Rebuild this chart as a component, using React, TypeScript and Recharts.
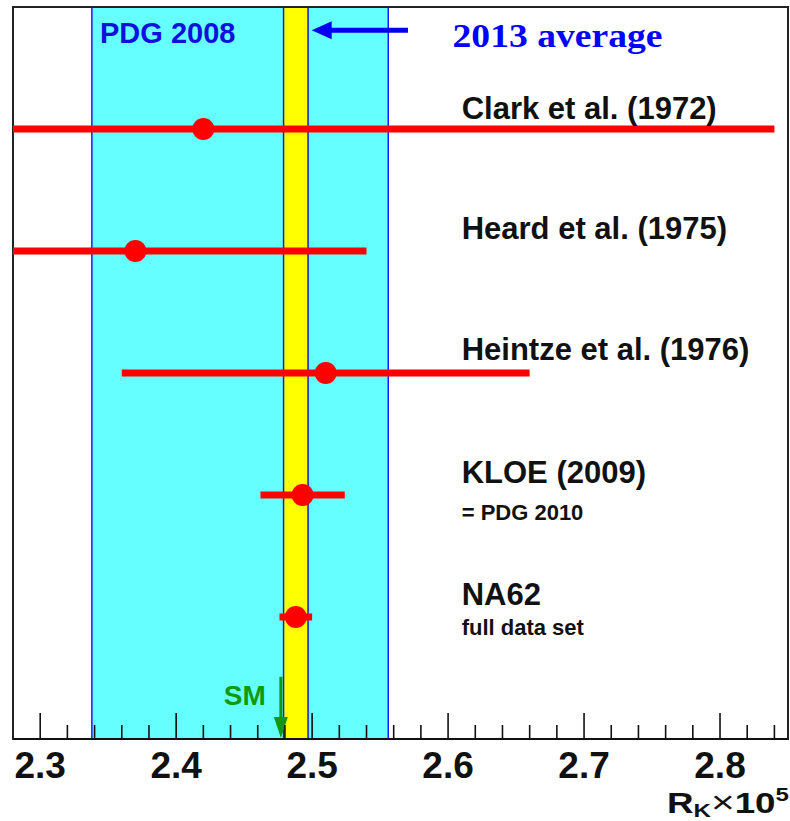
import React from "react";
import {
  ComposedChart,
  Scatter,
  ErrorBar,
  XAxis,
  YAxis,
  ReferenceArea,
  ReferenceDot,
  ReferenceLine,
} from "recharts";

// ---------- data ----------
const experiments = [
  "Clark et al. (1972)",
  "Heard et al. (1975)",
  "Heintze et al. (1976)",
  "KLOE (2009)",
  "NA62",
];
const subLabels = ["", "", "", "= PDG 2010", "full data set"];
const rkValues = [2.42, 2.37, 2.51, 2.493, 2.488];
const rkErrors = [0.42, 0.17, 0.15, 0.031, 0.012];
const rowPositions = [5, 4, 3, 2, 1];

const pdg2008Band = [2.338, 2.556];
const average2013Band = [2.479, 2.497];
const smValue = 2.477;

const xDomain = [2.28, 2.85];
const yDomain = [0, 6];
const tickValues = [
  2.3, 2.32, 2.34, 2.36, 2.38, 2.4, 2.42, 2.44, 2.46, 2.48, 2.5, 2.52, 2.54,
  2.56, 2.58, 2.6, 2.62, 2.64, 2.66, 2.68, 2.7, 2.72, 2.74, 2.76, 2.78, 2.8,
  2.82, 2.84,
];
const majorTickLabels = ["2.3", "2.4", "2.5", "2.6", "2.7", "2.8"];

// ---------- layout constants (annotation placement) ----------
const labelX = 2.61;
const labelDy = [-10, -12, -13, -12, -12];
const subLabelDy = [0, 0, 0, 25, 18];

const SANS = "'Liberation Sans', Arial, sans-serif";
const SERIF = "'Liberation Serif', 'Times New Roman', serif";

// error bars are clipped at the frame (the plot window), as in the original
const points = experiments.map((name, i) => ({
  name,
  x: rkValues[i],
  y: rowPositions[i],
  err: [
    Math.min(rkErrors[i], rkValues[i] - xDomain[0]),
    Math.min(rkErrors[i], xDomain[1] - rkValues[i]),
  ],
}));

const AxisTick = (props: any) => {
  const { x, y, payload } = props;
  const v = payload.value as number;
  const label = majorTickLabels.find((t) => Math.abs(parseFloat(t) - v) < 1e-6);
  const len = label ? 26 : 14;
  return (
    <g>
      <line x1={x} x2={x} y1={y} y2={y - len} stroke="#111" strokeWidth={1.6} />
      {label && (
        <text
          x={x}
          y={y + 39}
          textAnchor="middle"
          fontFamily={SANS}
          fontWeight="bold"
          fontSize={37}
          fill="#111"
        >
          {label}
        </text>
      )}
    </g>
  );
};

const textShape =
  (
    content: string,
    opts: {
      dx?: number;
      dy?: number;
      size: number;
      color?: string;
      family?: string;
      anchor?: string;
      length?: number;
    }
  ) =>
  (p: any) =>
    (
      <text
        x={p.cx + (opts.dx || 0)}
        y={p.cy + (opts.dy || 0)}
        fontFamily={opts.family || SANS}
        fontWeight="bold"
        fontSize={opts.size}
        fill={opts.color || "#111"}
        textAnchor={opts.anchor || "start"}
        {...(opts.length
          ? { textLength: opts.length, lengthAdjust: "spacingAndGlyphs" }
          : {})}
      >
        {content}
      </text>
    );

const Marker = (p: any) => <circle cx={p.cx} cy={p.cy} r={11} fill="#ff0000" />;

export default function App() {
  return (
    <div style={{ position: "absolute", left: 0, top: 0, background: "#fff" }}>
      <ComposedChart
        width={790}
        height={821}
        margin={{ top: 7, right: 2, left: 13, bottom: 0 }}
      >
        <XAxis
          type="number"
          dataKey="x"
          domain={xDomain}
          allowDataOverflow
          ticks={tickValues}
          interval={0}
          tickSize={0}
          tickMargin={0}
          tickLine={false}
          tick={<AxisTick />}
          height={82}
          axisLine={{ stroke: "#111", strokeWidth: 2 }}
        />
        <YAxis type="number" dataKey="y" domain={yDomain} hide allowDataOverflow />

        <ReferenceArea
          x1={pdg2008Band[0]}
          x2={pdg2008Band[1]}
          fill="#66ffff"
          fillOpacity={1}
          stroke="#1a1aff"
          strokeWidth={1.5}
        />
        <ReferenceArea
          x1={average2013Band[0]}
          x2={average2013Band[1]}
          fill="#ffff00"
          fillOpacity={1}
          stroke="#1a1acc"
          strokeWidth={1.5}
        />

        {/* SM arrow */}
        <ReferenceLine
          segment={[
            { x: smValue, y: 0.51 },
            { x: smValue, y: 0.12 },
          ]}
          stroke="#119911"
          strokeWidth={3}
        />
        <ReferenceDot
          x={smValue}
          y={0}
          r={0}
          ifOverflow="visible"
          shape={(p: any) => (
            <polygon
              points={`${p.cx},${p.cy - 1} ${p.cx - 7},${p.cy - 22} ${p.cx + 7},${p.cy - 22}`}
              fill="#119911"
            />
          )}
        />
        <ReferenceDot
          x={smValue}
          y={0}
          r={0}
          ifOverflow="visible"
          shape={textShape("SM", { dx: -57, dy: -34, size: 28, color: "#119911" })}
        />

        {/* 2013 average arrow */}
        <ReferenceLine
          segment={[
            { x: 2.5115, y: 5.81 },
            { x: 2.5705, y: 5.81 },
          ]}
          stroke="#0000ee"
          strokeWidth={5}
        />
        <ReferenceDot
          x={2.4997}
          y={5.81}
          r={0}
          ifOverflow="visible"
          shape={(p: any) => (
            <polygon
              points={`${p.cx},${p.cy} ${p.cx + 20},${p.cy - 9} ${p.cx + 20},${p.cy + 9}`}
              fill="#0000ee"
            />
          )}
        />
        <ReferenceDot
          x={2.344}
          y={5.705}
          r={0}
          ifOverflow="visible"
          shape={textShape("PDG 2008", { size: 29, color: "#1010dd" })}
        />
        <ReferenceDot
          x={2.6033}
          y={5.672}
          r={0}
          ifOverflow="visible"
          shape={textShape("2013 average", {
            size: 34,
            color: "#0000ff",
            family: SERIF,
            length: 210,
          })}
        />

        {/* experiment labels */}
        {experiments.map((name, i) => (
          <ReferenceDot
            key={"l" + i}
            x={labelX}
            y={rowPositions[i]}
            r={0}
            ifOverflow="visible"
            shape={textShape(name, { dy: labelDy[i], size: 31 })}
          />
        ))}
        {subLabels.map((s, i) =>
          s ? (
            <ReferenceDot
              key={"s" + i}
              x={labelX}
              y={rowPositions[i]}
              r={0}
              ifOverflow="visible"
              shape={textShape(s, { dy: subLabelDy[i], size: 22 })}
            />
          ) : null
        )}

        <Scatter data={points} shape={<Marker />} isAnimationActive={false}>
          <ErrorBar
            dataKey="err"
            direction="x"
            width={0}
            stroke="#ff0000"
            strokeWidth={7}
            isAnimationActive={false}
          />
        </Scatter>

        {/* frame */}
        <ReferenceArea
          x1={xDomain[0]}
          x2={xDomain[1]}
          fill="none"
          stroke="#222"
          strokeWidth={2}
        />

        {/* axis title */}
        <ReferenceDot
          x={xDomain[1]}
          y={0}
          r={0}
          ifOverflow="visible"
          shape={(p: any) => (
            <text
              x={p.cx + 1}
              y={p.cy + 74}
              textAnchor="end"
              fontFamily={SANS}
              fontWeight="bold"
              fontSize={29}
              fill="#111"
              textLength={122}
              lengthAdjust="spacingAndGlyphs"
            >
              R
              <tspan fontSize={19} dy={4}>
                K
              </tspan>
              <tspan fontWeight="normal" fontSize={32} dy={-4}>
                ×
              </tspan>
              10
              <tspan fontSize={19} dy={-12}>
                5
              </tspan>
            </text>
          )}
        />
      </ComposedChart>
    </div>
  );
}
